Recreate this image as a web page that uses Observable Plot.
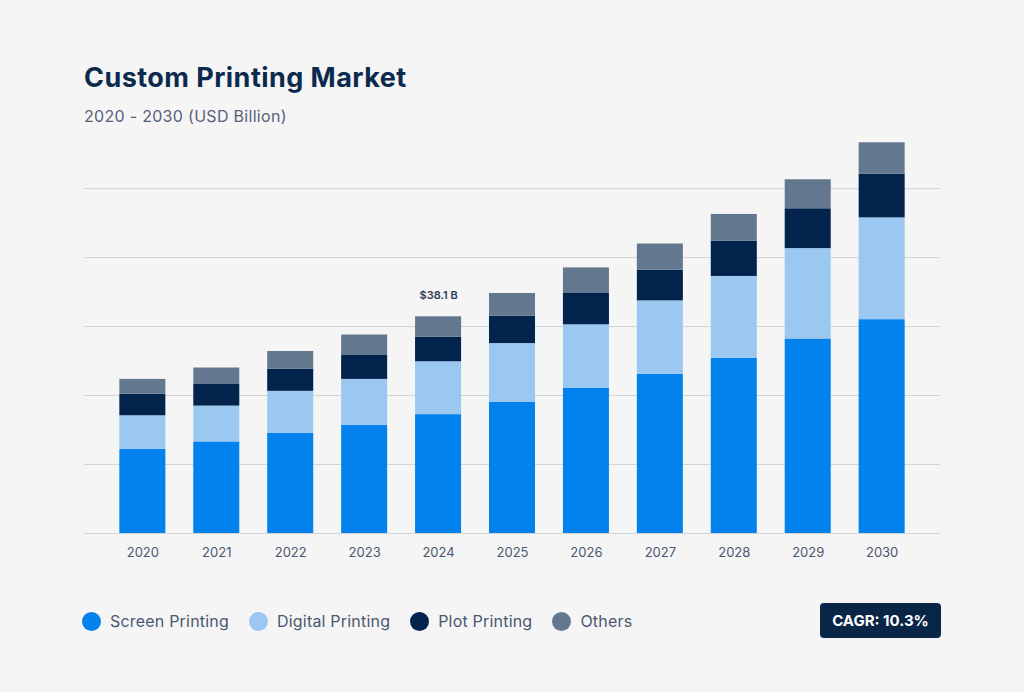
<!DOCTYPE html>
<html>
<head>
<meta charset="utf-8">
<script src="https://cdn.jsdelivr.net/npm/d3@7"></script>
<script src="https://cdn.jsdelivr.net/npm/@observablehq/plot@0.6"></script>
<style>
  html, body { margin: 0; padding: 0; background: #f5f5f5; }
  #wrap { position: relative; width: 1024px; height: 692px; background: #f5f5f5; font-family: Inter, "Noto Sans", sans-serif; overflow: hidden; }
  #title { position: absolute; left: 84px; top: 64px; font-size: 27px; line-height: 27px; font-weight: 700; color: #0c2a4d; letter-spacing: 0.45px; }
  #subtitle { position: absolute; left: 84px; top: 108px; font-size: 16px; line-height: 16px; color: #56627a; letter-spacing: 0.3px; }
  #chart { position: absolute; left: 0; top: 130px; }
  #legend { position: absolute; left: 82px; top: 611px; height: 20px; display: flex; align-items: center; gap: 20px; font-size: 16px; color: #4a5870; letter-spacing: 0.2px; }
  .item { display: flex; align-items: center; gap: 9px; }
  .dot { width: 19px; height: 19px; border-radius: 50%; display: inline-block; }
  #cagr { position: absolute; left: 820px; top: 603px; width: 121px; height: 35px; background: #0a2647; border-radius: 4px; color: #fff; font-size: 15px; font-weight: 700; display: flex; align-items: center; justify-content: center; }
</style>
</head>
<body>
<div id="wrap">
  <div id="title"></div>
  <div id="subtitle"></div>
  <div id="chart"></div>
  <div id="legend"></div>
  <div id="cagr"></div>
</div>
<script>
const titleText = "Custom Printing Market";
const subtitleText = "2020 - 2030 (USD Billion)";
const cagrText = "CAGR: 10.3%";

const years = ["2020","2021","2022","2023","2024","2025","2026","2027","2028","2029","2030"];
const seriesNames = ["Screen Printing", "Digital Printing", "Plot Printing", "Others"];
const seriesColors = ["#0382ee", "#9bc8f1", "#02234b", "#63788f"];

const screenPrinting  = [14.8, 16.1, 17.6, 19.0, 20.9, 23.1, 25.5, 28.0, 30.8, 34.2, 37.6];
const digitalPrinting = [5.9, 6.3, 7.4, 8.1, 9.3, 10.3, 11.2, 12.9, 14.4, 15.9, 17.9];
const plotPrinting    = [3.8, 3.9, 3.9, 4.3, 4.3, 4.8, 5.5, 5.4, 6.2, 7.0, 7.7];
const others          = [2.6, 2.8, 3.1, 3.5, 3.6, 4.0, 4.5, 4.6, 4.7, 5.1, 5.5];

const gridValues = [0, 12.13, 24.26, 36.39, 48.52, 60.65];
const annotatedYear = "2024";
const annotationText = "$38.1 B";

const seriesValues = [screenPrinting, digitalPrinting, plotPrinting, others];
const data = [];
seriesNames.forEach((s, i) => years.forEach((y, j) => data.push({year: y, series: s, value: seriesValues[i][j]})));

const totals = years.map((y, j) => ({year: y, total: d3.sum(seriesValues, v => v[j])}));
const annotation = totals.filter(d => d.year === annotatedYear).map(d => ({...d, label: annotationText}));

document.getElementById("title").textContent = titleText;
document.getElementById("subtitle").textContent = subtitleText;
document.getElementById("cagr").textContent = cagrText;

const chart = Plot.plot({
  width: 1024,
  height: 460,
  marginLeft: 84,
  marginRight: 84,
  marginTop: 4.9,
  marginBottom: 57,
  style: {background: "transparent", fontFamily: "Inter, 'Noto Sans', sans-serif", fontSize: "13px", color: "#4a5870"},
  x: {domain: years, paddingInner: 0.3775, paddingOuter: 0.478, round: false, label: null},
  y: {domain: [0, 70], axis: null},
  color: {domain: seriesNames, range: seriesColors},
  marks: [
    Plot.gridY(gridValues, {stroke: "#d3d3d3", strokeOpacity: 1, strokeWidth: 1}),
    Plot.barY(data, {x: "year", y: "value", fill: "series", order: seriesNames}),
    Plot.text(annotation, {x: "year", y: "total", text: "label", dy: -21.5, fontSize: 11, fontWeight: 600, fill: "#2c3e55"}),
    Plot.axisX({tickSize: 0, tickPadding: 14, fontSize: 13, fill: "#4a5870"})
  ]
});
document.getElementById("chart").appendChild(chart);

const legend = document.getElementById("legend");
seriesNames.forEach((s, i) => {
  const item = document.createElement("div");
  item.className = "item";
  const dot = document.createElement("span");
  dot.className = "dot";
  dot.style.background = seriesColors[i];
  const label = document.createElement("span");
  label.textContent = s;
  item.appendChild(dot);
  item.appendChild(label);
  legend.appendChild(item);
});
</script>
</body>
</html>
